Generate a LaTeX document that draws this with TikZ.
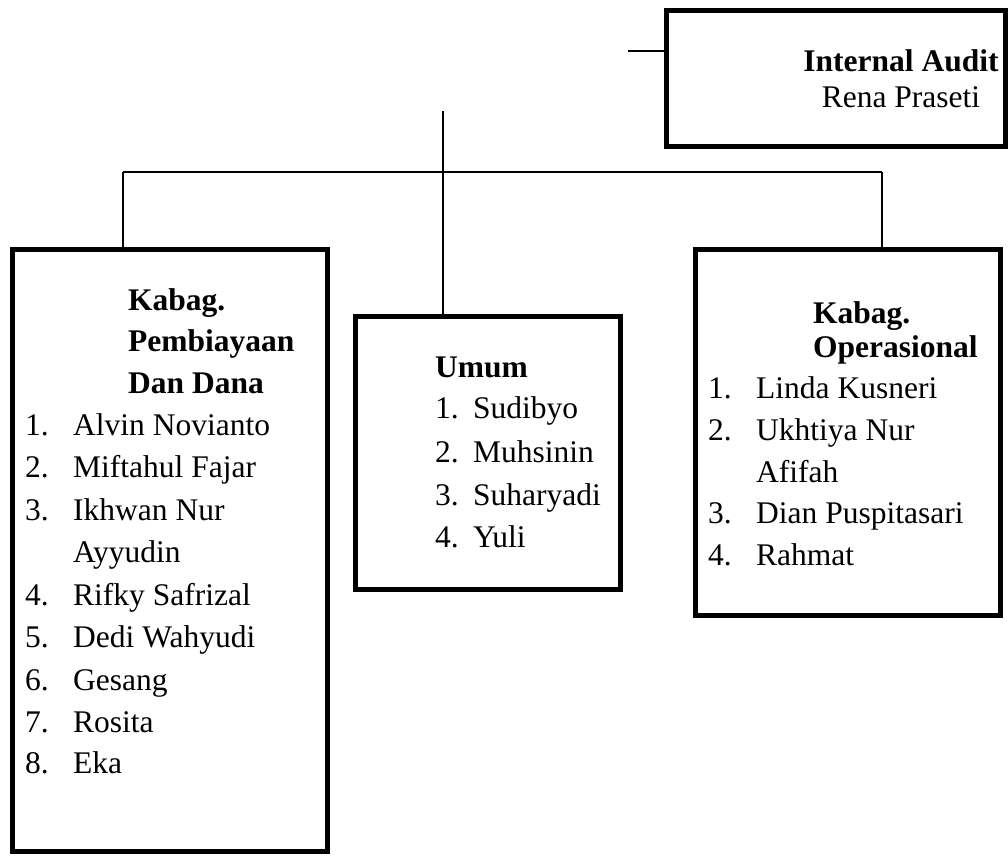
\documentclass[tikz,border=0pt]{standalone}
\usepackage{fontspec}
\setmainfont{Liberation Serif}
\usetikzlibrary{calc, positioning}
\tikzset{
    unit/.style={draw, line width=5pt, inner sep=0pt},
    txt/.style={anchor=base west, inner sep=0pt, font=\fontsize{31.5}{38}\selectfont},
    head/.style={txt, font=\fontsize{31.5}{38}\selectfont\bfseries},
    wire/.style={line width=2pt}
}
\newcommand{\unitbox}[4]{
    \node[unit, minimum width=#3, minimum height=#4] (#1) at (#2) {};
}
\newcommand{\member}[6]{
    \node[txt] (#1-n) at (#2, #4) {#5};
    \node[txt] (#1-t) at (#3, #4) {#6};
}

\begin{document}
\begin{tikzpicture}[x=1pt, y=-1pt]
    \useasboundingbox (0,0) rectangle (1008,856);
    \unitbox{audit}{835.5, 78.5}{339pt}{135pt}
    \unitbox{dana}{170, 550}{315pt}{602pt}
    \unitbox{umum}{487.5, 452.5}{265pt}{273pt}
    \unitbox{ops}{847.5, 432}{305pt}{366pt}
    % internal audit
    \node[head, anchor=base] (audit-h) at (901, 72) {Internal Audit};
    \node[txt, anchor=base] (audit-p) at (901, 108) {Rena Praseti};
    % pembiayaan dan dana
    \node[head] (dana-h1) at (128, 310) {Kabag.};
    \node[head] (dana-h2) at (128, 351) {Pembiayaan};
    \node[head] (dana-h3) at (128, 393) {Dan Dana};
    \member{dana-1}{25}{73}{435}{1.}{Alvin Novianto}
    \member{dana-2}{25}{73}{477}{2.}{Miftahul Fajar}
    \member{dana-3}{25}{73}{520}{3.}{Ikhwan Nur}
    \node[txt] (dana-3b) at (73, 562) {Ayyudin};
    \member{dana-4}{25}{73}{605}{4.}{Rifky Safrizal}
    \member{dana-5}{25}{73}{647}{5.}{Dedi Wahyudi}
    \member{dana-6}{25}{73}{690}{6.}{Gesang}
    \member{dana-7}{25}{73}{732}{7.}{Rosita}
    \member{dana-8}{25}{73}{773}{8.}{Eka}
    % umum
    \node[head] (umum-h) at (435, 377) {Umum};
    \member{umum-1}{435}{473}{418}{1.}{Sudibyo}
    \member{umum-2}{435}{473}{462}{2.}{Muhsinin}
    \member{umum-3}{435}{473}{505}{3.}{Suharyadi}
    \member{umum-4}{435}{473}{547}{4.}{Yuli}
    % operasional
    \node[head] (ops-h1) at (813, 323) {Kabag.};
    \node[head] (ops-h2) at (813, 357) {Operasional};
    \member{ops-1}{708}{756}{398}{1.}{Linda Kusneri}
    \member{ops-2}{708}{756}{440}{2.}{Ukhtiya Nur}
    \node[txt] (ops-2b) at (756, 482) {Afifah};
    \member{ops-3}{708}{756}{523}{3.}{Dian Puspitasari}
    \member{ops-4}{708}{756}{565}{4.}{Rahmat}
    % lines
    \coordinate (tie) at (628, 51);
    \coordinate (top) at (443, 111);
    \coordinate (bl) at (123, 172);
    \coordinate (br) at (882, 172);
    \draw[wire] (tie) -- (tie -| audit.west);
    \draw[wire] (top) -- (top |- umum.north);
    \draw[wire] (bl) -- (br);
    \draw[wire] (bl) -- (bl |- dana.north);
    \draw[wire] (br) -- (br |- ops.north);
\end{tikzpicture}
\end{document}
